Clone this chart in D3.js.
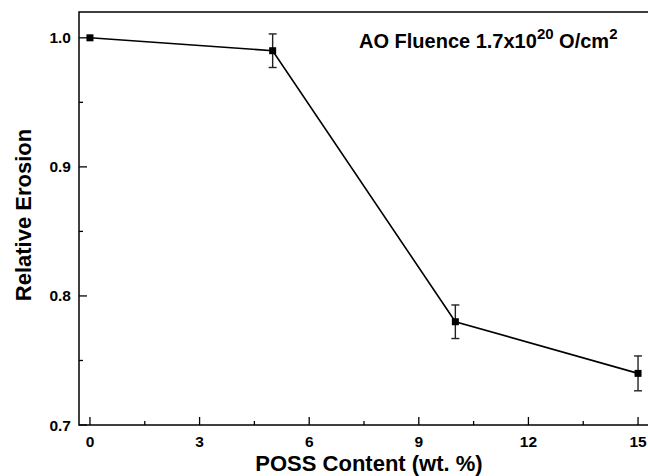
<!DOCTYPE html>
<html>
<head>
<meta charset="utf-8">
<script src="https://cdnjs.cloudflare.com/ajax/libs/d3/7.8.5/d3.min.js"></script>
<style>
  body { margin: 0; background: #fff; }
  svg { display: block; font-family: "Liberation Sans", Arial, sans-serif; font-weight: bold; }
</style>
</head>
<body>
<div id="c_plot"></div>
<script>
// data
var possContent = [0, 5, 10, 15];
var relErosion = [1.0, 0.99, 0.78, 0.74];
var errErosion = [0, 0.013, 0.013, 0.0135];
var xTicks = [0, 3, 6, 9, 12, 15];
var yTicks = [0.7, 0.8, 0.9, 1.0];

var W = 648, H = 476;
var pLeft = 79, pTop = 12, pRight = 649, pBottom = 425;

var svg = d3.select("#c_plot")
  .append("svg")
  .attr("width", W)
  .attr("height", H);

var x = d3.scaleLinear().domain([-0.3, 15.3]).range([pLeft, pRight]);
var y = d3.scaleLinear().domain([0.7, 1.02]).range([pBottom, pTop]);

// frame
svg.append("rect")
  .attr("x", pLeft).attr("y", pTop)
  .attr("width", pRight - pLeft).attr("height", pBottom - pTop)
  .attr("fill", "none").attr("stroke", "#000").attr("stroke-width", 1.5);

// x axis, ticks inward
var xMinor = d3.range(0, 15.01, 1.5).filter(d => xTicks.indexOf(d) < 0);
svg.append("g").selectAll("line").data(xTicks).join("line")
  .attr("x1", d => x(d)).attr("x2", d => x(d))
  .attr("y1", pBottom).attr("y2", pBottom - 8)
  .attr("stroke", "#000").attr("stroke-width", 1.3);
svg.append("g").selectAll("line").data(xMinor).join("line")
  .attr("x1", d => x(d)).attr("x2", d => x(d))
  .attr("y1", pBottom).attr("y2", pBottom - 4)
  .attr("stroke", "#000").attr("stroke-width", 1.3);
svg.append("g").selectAll("text").data(xTicks).join("text")
  .attr("x", d => x(d)).attr("y", 447)
  .attr("text-anchor", "middle")
  .style("font-size", "15.5px")
  .text(d => d);

// y axis, ticks inward
var yMinor = [0.75, 0.85, 0.95];
svg.append("g").selectAll("line").data(yTicks).join("line")
  .attr("x1", pLeft).attr("x2", pLeft + 8)
  .attr("y1", d => y(d)).attr("y2", d => y(d))
  .attr("stroke", "#000").attr("stroke-width", 1.3);
svg.append("g").selectAll("line").data(yMinor).join("line")
  .attr("x1", pLeft).attr("x2", pLeft + 4)
  .attr("y1", d => y(d)).attr("y2", d => y(d))
  .attr("stroke", "#000").attr("stroke-width", 1.3);
svg.append("g").selectAll("text").data(yTicks).join("text")
  .attr("x", 71).attr("y", d => y(d) + 5.5)
  .attr("text-anchor", "end")
  .style("font-size", "15.5px")
  .text(d => d.toFixed(1));

// axis titles
svg.append("text")
  .attr("x", 369).attr("y", 471)
  .attr("text-anchor", "middle")
  .style("font-size", "22px")
  .text("POSS Content (wt. %)");
svg.append("text")
  .attr("transform", "translate(31,215) rotate(-90)")
  .attr("text-anchor", "middle")
  .style("font-size", "22px")
  .text("Relative Erosion");

// annotation
var ann = svg.append("text")
  .attr("x", 359).attr("y", 48)
  .style("font-size", "20px");
ann.append("tspan").text("AO Fluence 1.7x10");
ann.append("tspan").attr("dy", -9).style("font-size", "15px").text("20");
ann.append("tspan").attr("dy", 9).text(" O/cm");
ann.append("tspan").attr("dy", -9).style("font-size", "15px").text("2");

// data line
var pts = possContent.map((d, i) => [d, relErosion[i], errErosion[i]]);
var line = d3.line().x(d => x(d[0])).y(d => y(d[1]));
svg.append("path")
  .attr("d", line(pts))
  .attr("fill", "none").attr("stroke", "#000").attr("stroke-width", 1.6);

// error bars
var eb = svg.append("g").attr("stroke", "#222").attr("stroke-width", 1.4);
pts.filter(d => d[2] > 0).forEach(function(d){
  eb.append("line")
    .attr("x1", x(d[0])).attr("x2", x(d[0]))
    .attr("y1", y(d[1] + d[2])).attr("y2", y(d[1] - d[2]));
  [d[1] + d[2], d[1] - d[2]].forEach(function(v){
    eb.append("line")
      .attr("x1", x(d[0]) - 4).attr("x2", x(d[0]) + 4)
      .attr("y1", y(v)).attr("y2", y(v));
  });
});

// markers
svg.append("g").selectAll("rect").data(pts).join("rect")
  .attr("x", d => x(d[0]) - 3.5).attr("y", d => y(d[1]) - 3.5)
  .attr("width", 7).attr("height", 7)
  .attr("fill", "#000");
</script>
</body>
</html>
